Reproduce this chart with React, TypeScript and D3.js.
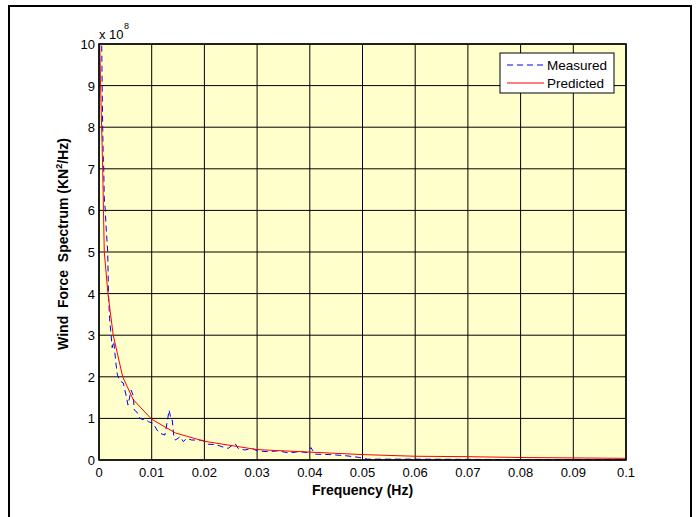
import React from "react";
import * as d3 from "d3";

const xTicks = [0, 0.01, 0.02, 0.03, 0.04, 0.05, 0.06, 0.07, 0.08, 0.09, 0.1];
const xTickLabels = ["0", "0.01", "0.02", "0.03", "0.04", "0.05", "0.06", "0.07", "0.08", "0.09", "0.1"];
const yTicks = [0, 1, 2, 3, 4, 5, 6, 7, 8, 9, 10];

// Measured spectrum (x 1e8 KN^2/Hz)
const measuredF = [0.0005, 0.0006, 0.0007, 0.0008, 0.0009, 0.001, 0.0012, 0.0013, 0.00165, 0.0018, 0.002, 0.0023, 0.0025, 0.0028, 0.0032, 0.0035, 0.004, 0.0046, 0.0052, 0.0055, 0.0061, 0.0065, 0.0067, 0.0072, 0.0078, 0.0083, 0.0087, 0.0094, 0.0103, 0.011, 0.0116, 0.0125, 0.013, 0.0133, 0.0137, 0.0139, 0.0142, 0.0145, 0.0154, 0.016, 0.0166, 0.0176, 0.0188, 0.0197, 0.0207, 0.0222, 0.0233, 0.0245, 0.0258, 0.0264, 0.0277, 0.029, 0.03, 0.032, 0.034, 0.036, 0.038, 0.0395, 0.0402, 0.041, 0.044, 0.047, 0.0495, 0.051, 0.06, 0.07, 0.08, 0.09, 0.1];
const measuredS = [10.2, 9.0, 8.0, 7.3, 7.0, 6.3, 6.0, 5.7, 5.0, 4.0, 3.4, 3.0, 2.7, 2.85, 2.33, 2.04, 1.9, 1.85, 1.52, 1.32, 1.68, 1.55, 1.2, 1.15, 1.0, 0.97, 1.0, 0.92, 0.88, 0.72, 0.64, 0.6, 0.96, 1.2, 0.96, 0.96, 0.56, 0.48, 0.56, 0.44, 0.52, 0.48, 0.48, 0.47, 0.38, 0.37, 0.32, 0.28, 0.4, 0.28, 0.24, 0.28, 0.22, 0.2, 0.22, 0.17, 0.2, 0.18, 0.3, 0.14, 0.13, 0.1, 0.06, 0.02, 0.02, 0.015, 0.01, 0.01, 0.01];

// Predicted spectrum (x 1e8 KN^2/Hz)
const predictedF = [0.00015, 0.0003, 0.0005, 0.0007, 0.00085, 0.001, 0.0017, 0.0027, 0.0045, 0.0065, 0.01, 0.0145, 0.02, 0.03, 0.04, 0.05, 0.06, 0.07, 0.08, 0.09, 0.1];
const predictedS = [10, 9.0, 8.0, 7.0, 6.0, 5.0, 4.0, 3.0, 2.0, 1.45, 0.98, 0.65, 0.45, 0.25, 0.19, 0.13, 0.09, 0.08, 0.06, 0.05, 0.04];

const legendLabels = ["Measured", "Predicted"];

const L = 99, R = 626, T = 44, B = 460;

export default function App() {
  const x = d3.scaleLinear().domain([0, 0.1]).range([L, R]);
  const y = d3.scaleLinear().domain([0, 10]).range([B, T]);
  const line = d3.line<[number, number]>().x((d) => x(d[0])).y((d) => y(d[1]));
  const measured = measuredF.map((f, i) => [f, measuredS[i]] as [number, number]);
  const predicted = predictedF.map((f, i) => [f, predictedS[i]] as [number, number]);
  const font = "'Liberation Sans', Arial, sans-serif";

  return (
    <svg width={699} height={517} style={{ position: "fixed", left: 0, top: 0, background: "#fff" }} fontFamily={font}>
      <rect x={9} y={6} width={682} height={530} fill="none" stroke="#000" strokeWidth={2} />
      <defs>
        <clipPath id="plotClip">
          <rect x={L} y={T} width={R - L} height={B - T} />
        </clipPath>
      </defs>
      <rect x={L} y={T} width={R - L} height={B - T} fill="#ffffcc" />
      {xTicks.map((t, i) => (
        <line key={"gx" + i} x1={x(t)} x2={x(t)} y1={T} y2={B} stroke="#000" strokeWidth={1} />
      ))}
      {yTicks.map((t, i) => (
        <line key={"gy" + i} x1={L} x2={R} y1={y(t)} y2={y(t)} stroke="#000" strokeWidth={1} />
      ))}
      <g clipPath="url(#plotClip)">
        <path d={line(measured) || ""} fill="none" stroke="#0000ff" strokeWidth={1} strokeDasharray="6,4" />
        <path d={line(predicted) || ""} fill="none" stroke="#ff0000" strokeWidth={1} />
      </g>
      <rect x={L} y={T} width={R - L} height={B - T} fill="none" stroke="#000" strokeWidth={1.5} />
      {xTicks.map((t, i) => (
        <text key={"xl" + i} x={x(t)} y={477} fontSize={13} textAnchor="middle" fill="#000">
          {xTickLabels[i]}
        </text>
      ))}
      {yTicks.map((t, i) => (
        <text key={"yl" + i} x={95} y={y(t) + 5} fontSize={13} textAnchor="end" fill="#000">
          {t}
        </text>
      ))}
      <text x={99} y={39} fontSize={13} fill="#000">x 10</text>
      <text x={124} y={29} fontSize={9} fill="#000">8</text>
      <text x={(L + R) / 2} y={495} fontSize={14} fontWeight="bold" textAnchor="middle" fill="#000">
        Frequency (Hz)
      </text>
      <text transform={`translate(68, ${(T + B) / 2 - 8}) rotate(-90)`} fontSize={14} fontWeight="bold" textAnchor="middle" fill="#000" style={{ whiteSpace: "pre" }}>
        <tspan>{"Wind  Force  Spectrum (KN"}</tspan>
        <tspan fontSize={9} dy={-6}>2</tspan>
        <tspan dy={6}>/Hz)</tspan>
      </text>
      <rect x={500} y={53} width={114} height={40} fill="#fff" stroke="#000" strokeWidth={1} />
      <line x1={507} x2={544} y1={65} y2={65} stroke="#0000ff" strokeWidth={1} strokeDasharray="6,4" />
      <line x1={507} x2={544} y1={83} y2={83} stroke="#ff0000" strokeWidth={1} />
      <text x={547} y={70} fontSize={13.5} fill="#000">{legendLabels[0]}</text>
      <text x={547} y={88} fontSize={13.5} fill="#000">{legendLabels[1]}</text>
    </svg>
  );
}
